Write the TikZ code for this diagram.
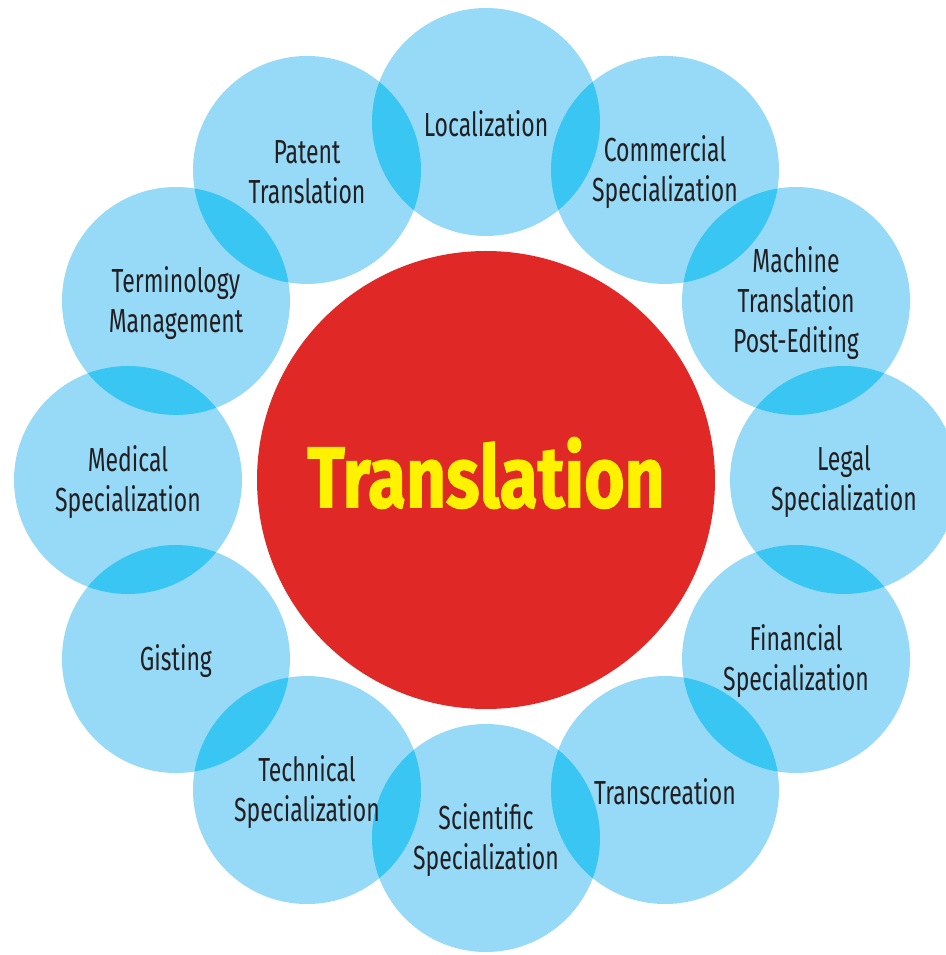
\documentclass[tikz,border=0pt]{standalone}
\usepackage{fontspec}
\newfontfamily\lblfont[FakeStretch=0.69]{Fira Sans}
\newfontfamily\corefont[FakeStretch=0.8,FakeBold=1.2]{Fira Sans}
\definecolor{bubblefill}{RGB}{150,218,247}
\definecolor{lensfill}{RGB}{58,198,242}
\definecolor{corered}{RGB}{224,40,39}
\definecolor{coretext}{RGB}{255,242,0}
\definecolor{labeltext}{RGB}{35,31,32}
\begin{document}
\begin{tikzpicture}[
    x=0.75pt, y=0.75pt,
    core/.style={circle, fill=corered, minimum size=343.5pt, inner sep=0pt},
    coretxt/.style={text=coretext, inner sep=0pt,
        font=\corefont\bfseries\fontsize{65}{70}\selectfont},
    bubble/.style={fill=bubblefill},
    lens/.style={fill=lensfill},
    lbl/.style={align=center, text=labeltext, inner sep=0pt, yshift=-1.5pt,
        font=\lblfont\fontsize{25}{30}\selectfont}
]
\useasboundingbox (-486,480) rectangle (459,-475);

% Centre
\node[core] (core) at (0,0) {};
\node[coretxt] (title) at (0,7) {Translation};

% Bubbles
\foreach \a in {90,60,...,-240}
    \fill[bubble] (\a:358) circle (114);
\foreach \a in {90,60,...,-240} {
    \begin{scope}
        \clip (\a:358) circle (114);
        \fill[lens] (\a-30:358) circle (114);
    \end{scope}
}

% Labels
\foreach \a/\name/\txt in {
    90/loc/Localization,
    60/com/{Commercial\\Specialization},
    30/mtpe/{Machine\\Translation\\Post-Editing},
    0/legal/{Legal\\Specialization},
    -30/fin/{Financial\\Specialization},
    -60/trans/Transcreation,
    -90/sci/{Scientific\\Specialization},
    -120/tech/{Technical\\Specialization},
    -150/gist/Gisting,
    180/med/{Medical\\Specialization},
    150/term/{Terminology\\Management},
    120/pat/{Patent\\Translation}}
    \node[lbl] (\name) at (\a:358) {\txt};
\end{tikzpicture}
\end{document}
